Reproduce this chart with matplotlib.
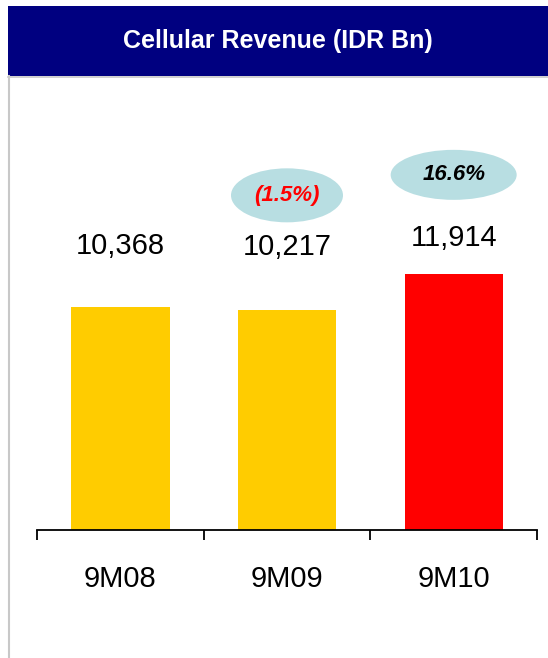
import matplotlib
matplotlib.use("Agg")
import matplotlib.pyplot as plt
from matplotlib.patches import Rectangle, Ellipse
from matplotlib.lines import Line2D

# data
periods = ["9M08", "9M09", "9M10"]
revenue = [10368, 10217, 11914]
growth_labels = ["", "(1.5%)", "16.6%"]
growth_colors = ["black", "#FF0000", "black"]
bar_colors = ["#FFCC00", "#FFCC00", "#FF0000"]

# layout (pixels above bar top)
label_pad_px = [61, 63, 36]
bubble_pad_px = [0, 115, 99]
bubble_size_px = [(0, 0), (112, 54), (126, 50)]

W, H = 548, 658
plt.rcParams["font.family"] = ["Liberation Sans", "DejaVu Sans"]

fig = plt.figure(figsize=(W / 100, H / 100), dpi=100)

# header band + frame
fig.add_artist(Rectangle((8 / W, 1 - 76 / H), 1 - 8 / W, 70 / H,
                         transform=fig.transFigure, facecolor="#000080",
                         edgecolor="none"))
fig.add_artist(Line2D([8 / W, 1], [1 - 76.5 / H, 1 - 76.5 / H],
                      transform=fig.transFigure, color="#C8C8C8", lw=1.2))
fig.add_artist(Line2D([8.5 / W, 8.5 / W], [0, 1 - 76 / H],
                      transform=fig.transFigure, color="#C8C8C8", lw=1.5))
fig.text((8 + W) / 2 / W, 1 - 41 / H, "Cellular Revenue (IDR Bn)",
         color="white", fontsize=18, fontweight="bold",
         ha="center", va="center")

ax_left, ax_right, ax_bottom, ax_top = 37, 537, 530, 100
ax = fig.add_axes([ax_left / W, 1 - ax_bottom / H,
                   (ax_right - ax_left) / W, (ax_bottom - ax_top) / H])
ymax = 20000
ax.set_xlim(-0.5, len(periods) - 0.5)
ax.set_ylim(0, ymax)
unit = ymax / (ax_bottom - ax_top)  # data units per pixel
xunit = len(periods) / (ax_right - ax_left)

x = range(len(periods))
ax.bar(x, revenue, width=0.59, color=bar_colors)

for i, v in enumerate(revenue):
    ax.text(i, v + label_pad_px[i] * unit, f"{v:,}", ha="center",
            va="center", fontsize=21)
    if growth_labels[i]:
        cy = v + bubble_pad_px[i] * unit
        bw, bh = bubble_size_px[i]
        ax.add_patch(Ellipse((i, cy), bw * xunit, bh * unit,
                             facecolor="#B8DEE2", edgecolor="none",
                             clip_on=False))
        ax.text(i, cy, growth_labels[i], ha="center", va="center",
                fontsize=16, fontweight="bold", fontstyle="italic",
                color=growth_colors[i])

for s in ["top", "right", "left"]:
    ax.spines[s].set_visible(False)
ax.spines["bottom"].set_linewidth(1.3)
ax.set_yticks([])
ax.set_xticks([-0.5, 0.5, 1.5, 2.5])
ax.set_xticklabels([])
ax.tick_params(axis="x", which="major", direction="out", length=7.5, width=1.3)
ax.set_xticks(list(x), minor=True)
ax.set_xticklabels(periods, minor=True, fontsize=21)
ax.tick_params(axis="x", which="minor", length=0, pad=25)

fig.savefig("out.png", dpi=100)
